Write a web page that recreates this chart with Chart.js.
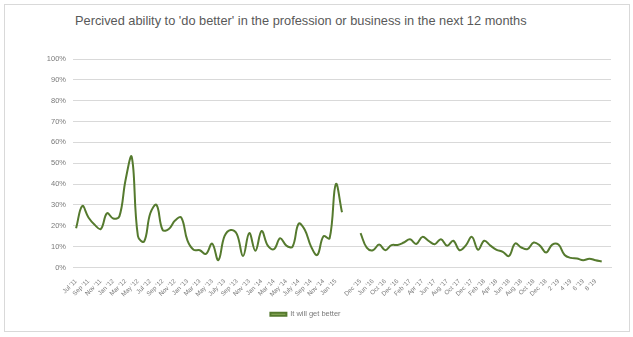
<!DOCTYPE html>
<html>
<head>
<meta charset="utf-8">
<title>Percived ability to 'do better'</title>
<script src="https://cdn.jsdelivr.net/npm/chart.js@4/dist/chart.umd.min.js"></script>
<style>
    html, body { margin: 0; padding: 0; background: #ffffff; }
    #wrap { position: relative; width: 633px; height: 337px; }
    #marco { position: absolute; left: 4px; top: 4px; width: 624px; height: 326px; border: 1px solid #d9d9d9; }
    #titulo { position: absolute; left: 75px; top: 13px; font-family: 'Liberation Sans Narrow', 'Liberation Sans', sans-serif; font-size: 12.8px; color: #595959; white-space: nowrap; }
    #chartMejor { position: absolute; left: 0; top: 0; }
</style>
</head>
<body>
<div id="wrap">
    <div id="marco"></div>
    <div id="titulo">Percived ability to 'do better' in the profession or business in the next 12 months</div>
    <canvas id="chartMejor" width="633" height="337"></canvas>
</div>
<script>
// Survey months (every second one is shown on the axis)
const meses = [
    "Jul '11", "Aug '11", "Sep '11", "Oct '11", "Nov '11", "Dec '11",
    "Jan '12", "Feb '12", "Mar '12", "Apr '12", "May '12", "Jun '12",
    "Jul '12", "Aug '12", "Sep '12", "Oct '12", "Nov '12", "Dec '12",
    "Jan '13", "Feb '13", "Mar '13", "Apr '13", "May '13", "Jun '13",
    "July '13", "Aug '13", "Sep '13", "Oct '13", "Nov '13", "Dec '13",
    "Jan '14", "Feb '14", "Mar '14", "Apr '14", "May '14", "Jun '14",
    "July '14", "Aug '14", "Sep '14", "Oct '14", "Nov '14", "Dec '14",
    "Jan '15", "Feb '15", "", "",
    "Dec '15", "Mar '16", "Jun '16", "Aug '16",
    "Oct '16", "Nov '16", "Dec '16", "Jan '17", "Feb '17", "Mar '17",
    "Apr '17", "May '17", "Jun '17", "Jul '17", "Aug '17", "Sep '17",
    "Oct '17", "Nov '17", "Dec '17", "Jan '18", "Feb '18", "Mar '18",
    "Apr '18", "May '18", "Jun '18", "Jul '18", "Aug '18", "Sep '18",
    "Oct '18", "Nov '18", "Dec '18", "1 '19", "2 '19", "3 '19",
    "4 '19", "5 '19", "6 '19", "7 '19", "8 '19", "9 '19", ""
];

// % answering "It will get better" (null = no survey)
const mejorara = [
    18.8, 29.5, 24, 20.5, 18.5, 26, 23.5, 24.5, 42, 53,
    15, 12.5, 26, 30, 18, 18.5, 22.5, 24, 13, 8.5,
    8.3, 6.5, 11.5, 3.5, 15, 18, 16, 5.5, 16.5, 8,
    17.5, 10.5, 8.8, 14, 10.5, 10, 21, 18, 10, 6,
    15, 14, 40, 26.5, null, null,
    16.5, 9.5, 8.3, 11, 8.3, 10.7, 10.8, 12, 13.5, 11.3,
    14.7, 12.8, 11.2, 13.6, 10.4, 12.8, 8.3, 10.5, 14.7, 8.5,
    12.8, 10.5, 8.5, 7.5, 5.5, 11.5, 9.6, 8.8, 12, 10.5,
    7.2, 11, 11, 6, 4.6, 4.3, 3.5, 4.2, 3.5, 2.9, null
];

const serieNombre = 'It will get better';
const ticksY = [0, 10, 20, 30, 40, 50, 60, 70, 80, 90, 100];

document.addEventListener('DOMContentLoaded', function () {
    const canvas = document.getElementById('chartMejor');
    const gris = '#7a7a7a';
    const fuente = "'Liberation Sans Narrow', 'Liberation Sans', sans-serif";

    new Chart(canvas, {
        type: 'line',
        data: {
            labels: meses,
            datasets: [{
                label: serieNombre,
                data: mejorara,
                borderColor: '#557a2e',
                backgroundColor: '#8fae5c',
                borderWidth: 2,
                pointRadius: 0,
                tension: 0.4,
                spanGaps: false
            }]
        },
        options: {
            responsive: false,
            animation: false,
            devicePixelRatio: 1,
            layout: {
                padding: { top: 59, left: 0, right: 22, bottom: 9 }
            },
            plugins: {
                legend: {
                    position: 'bottom',
                    labels: {
                        color: gris,
                        font: { family: fuente, size: 7.5 },
                        boxWidth: 16,
                        boxHeight: 3,
                        padding: 10
                    }
                },
                tooltip: { enabled: false }
            },
            scales: {
                x: {
                    offset: true,
                    grid: { display: false },
                    border: { display: true, color: '#d9d9d9', width: 1 },
                    afterFit: function (scale) { scale.height = 33; },
                    ticks: {
                        autoSkip: false,
                        maxRotation: 45,
                        minRotation: 45,
                        padding: 2,
                        color: gris,
                        font: { family: fuente, size: 6.3 },
                        callback: function (val, idx) {
                            return idx % 2 === 0 ? this.getLabelForValue(val) : '';
                        }
                    }
                },
                y: {
                    min: 0,
                    max: 100,
                    border: { display: false },
                    grid: { color: '#d9d9d9', drawTicks: false },
                    afterFit: function (scale) { scale.width = 73; },
                    afterBuildTicks: function (scale) {
                        scale.ticks = ticksY.map(v => ({ value: v }));
                    },
                    ticks: {
                        padding: 7,
                        color: gris,
                        font: { family: fuente, size: 7.5 },
                        callback: function (val) { return val + '%'; }
                    }
                }
            }
        }
    });
});
</script>
</body>
</html>
